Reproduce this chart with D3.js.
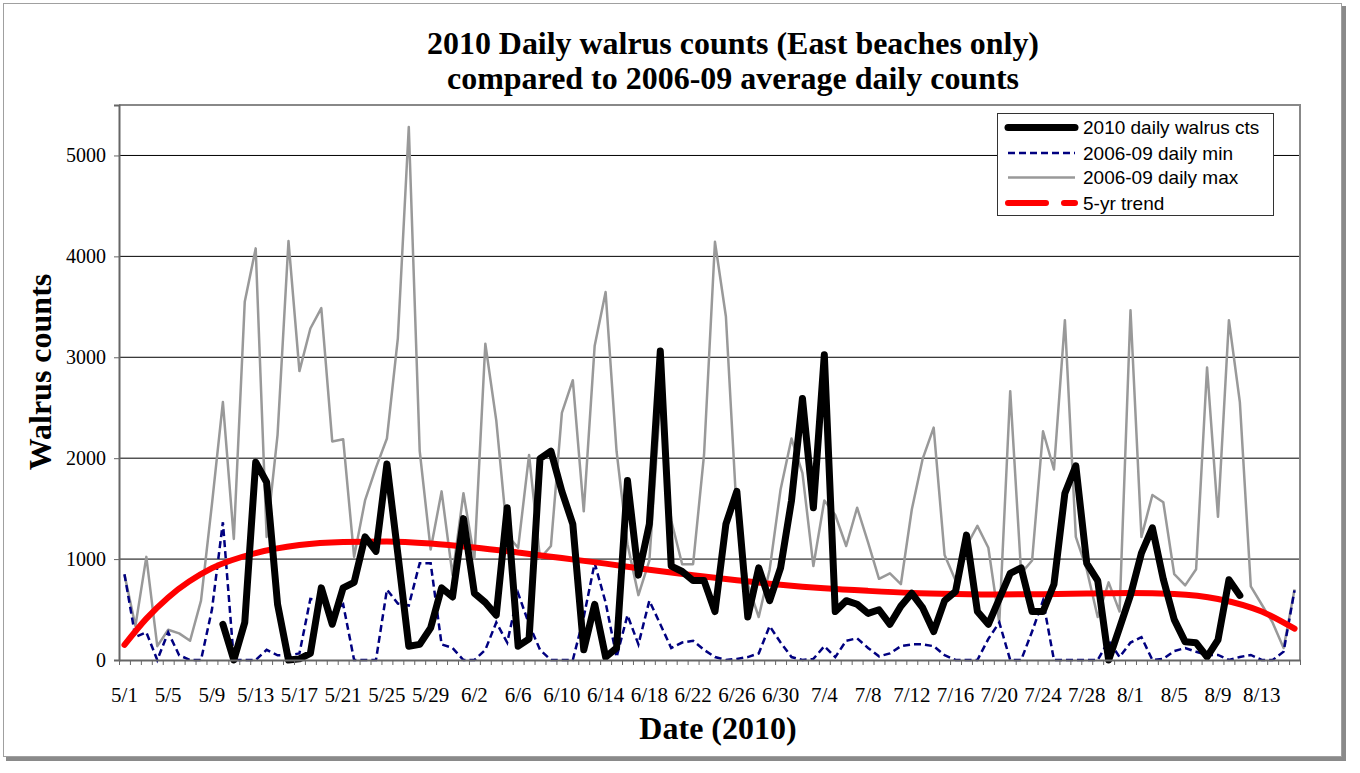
<!DOCTYPE html>
<html>
<head>
<meta charset="utf-8">
<script src="https://cdn.jsdelivr.net/npm/d3@7"></script>
<style>
  body { margin: 0; background: #fff; }
</style>
</head>
<body>
<div id="chart-area"></div>
<script>
// categories: one per day, 5/1 .. 8/16 2010
let days = d3.timeDay.range(new Date(2010, 4, 1), new Date(2010, 7, 17));
let tickLabels = ["5/1","5/5","5/9","5/13","5/17","5/21","5/25","5/29","6/2","6/6","6/10","6/14",
    "6/18","6/22","6/26","6/30","7/4","7/8","7/12","7/16","7/20","7/24","7/28","8/1","8/5","8/9","8/13"];
let yTicks = [0, 1000, 2000, 3000, 4000, 5000];

// 2010 daily walrus counts (first count on 5/10, last on 8/11)
let counts2010 = [null,null,null,null,null,null,null,null,null,
    354,0,372,1960,1762,552,0,11,65,715,354,715,769,1220,1076,1942,1050,137,155,318,715,
    625,1401,661,570,444,1509,137,209,1996,2069,1671,1347,101,552,29,119,1780,841,1347,3061,
    931,877,787,787,480,1347,1671,426,913,588,913,1581,2592,1509,3025,480,588,552,462,498,
    354,534,661,516,282,588,679,1238,480,354,606,859,913,480,480,751,1653,1924,958,787,
    0,318,643,1058,1310,800,400,180,170,30,200,795,640,
    null,null,null,null,null];

// 2006-09 daily minimum
let dailyMin = [850,227,274,0,274,47,0,0,500,1365,0,0,0,101,47,47,65,606,588,462,
    552,0,0,0,697,560,540,960,960,155,119,0,0,101,372,173,661,354,101,0,
    0,0,426,960,570,29,444,155,588,354,119,173,191,101,29,0,11,29,65,336,
    173,29,0,11,137,29,191,215,119,36,65,137,155,155,137,47,0,0,0,209,
    372,0,0,282,588,0,0,0,0,0,191,29,173,227,0,11,89,119,82,50,
    50,0,30,50,0,0,83,690];

// 2006-09 daily maximum
let dailyMax = [848,336,1022,137,300,264,191,588,1545,2556,1200,3549,4079,1220,2231,4152,2863,3285,3487,2166,
    2188,1022,1581,1906,2195,3188,5282,2069,1094,1671,841,1653,1004,3134,2375,1238,1112,2032,1004,1130,
    2448,2773,1473,3115,3646,2069,1148,643,986,2574,1383,949,949,2032,4144,3404,1437,751,426,895,
    1690,2195,1852,931,1581,1437,1130,1509,1166,805,859,751,1491,1996,2303,1040,787,1130,1329,1112,
    372,2664,859,986,2267,1888,3368,1220,895,426,769,480,3466,1220,1635,1563,850,740,900,2899,
    1419,3368,2556,730,550,370,119,700];

// 5-yr trend at a few days
let trendDays = [0, 2, 4, 8, 12, 16, 20, 24, 28, 32, 36, 40, 44, 48, 52, 56, 60, 64, 68, 72, 76, 80, 84, 88, 92, 96, 100, 104, 107];
let trendVals = [150, 410, 620, 910, 1060, 1140, 1170, 1175, 1155, 1115, 1065, 1010, 955, 895, 840, 790, 745, 710, 685, 665, 655, 650, 652, 658, 665, 655, 605, 480, 310];

let seriesNames = ["2010 daily walrus cts", "2006-09 daily min", "2006-09 daily max", "5-yr trend"];

// plot area
let margin = {top: 105, right: 60, bottom: 113, left: 119};
let W = 1360, H = 773;
let width = W - margin.left - margin.right,
    height = H - margin.top - margin.bottom;

let svg = d3.select("#chart-area")
    .append("svg")
    .attr("width", W)
    .attr("height", H)
    .style("font-family", "'Liberation Serif', 'Times New Roman', serif");

// outer chart frame with a little shadow
svg.append("rect")
    .attr("x", 6).attr("y", 6).attr("width", 1340).attr("height", 755)
    .attr("fill", "#8a8a8a");
svg.append("rect")
    .attr("x", 3.5).attr("y", 3.5).attr("width", 1338).attr("height", 753)
    .attr("fill", "#fff").attr("stroke", "#a0a0a0");

let g = svg.append("g")
    .attr("transform", "translate(" + margin.left + "," + margin.top + ")");

let x = d3.scaleBand().domain(d3.range(days.length)).range([0, width]);
let xEdge = d3.scaleLinear().domain([0, days.length]).range([0, width]);
let xc = i => x(i) + x.bandwidth() / 2;
let y = d3.scaleLinear().domain([0, 5500]).range([height, 0]);

// gridlines
g.selectAll(".grid")
    .data(yTicks.filter(d => d > 0))
    .enter().append("line")
    .attr("class", "grid")
    .attr("x1", 0).attr("x2", width)
    .attr("y1", d => y(d)).attr("y2", d => y(d))
    .attr("stroke", "#000").attr("stroke-width", 1);

// plot border (top, right)
g.append("path")
    .attr("d", "M0,0H" + width + "V" + height)
    .attr("fill", "none").attr("stroke", "#888").attr("stroke-width", 2);

// series
let line = d3.line()
    .defined(d => d.v != null)
    .x(d => xc(d.i))
    .y(d => y(d.v));

let asPts = arr => arr.map((v, i) => ({i: i, v: v}));

g.append("path")
    .datum(asPts(dailyMax))
    .attr("d", line)
    .attr("fill", "none").attr("stroke", "#999").attr("stroke-width", 2.5)
    .attr("stroke-linejoin", "round");

g.append("path")
    .datum(asPts(dailyMin))
    .attr("d", line)
    .attr("fill", "none").attr("stroke", "#000080").attr("stroke-width", 2.5)
    .attr("stroke-dasharray", "7,4");

let trendLine = d3.line()
    .x(d => xc(d.i))
    .y(d => y(d.v))
    .curve(d3.curveMonotoneX);

g.append("path")
    .datum(trendDays.map((d, k) => ({i: d, v: trendVals[k]})))
    .attr("d", trendLine)
    .attr("fill", "none").attr("stroke", "#ff0000").attr("stroke-width", 6)
    .attr("stroke-linecap", "round");

g.append("path")
    .datum(asPts(counts2010))
    .attr("d", line)
    .attr("fill", "none").attr("stroke", "#000").attr("stroke-width", 7)
    .attr("stroke-linejoin", "round").attr("stroke-linecap", "round");

// y axis
let yAxis = g.append("g")
    .call(d3.axisLeft(y).tickValues(yTicks).tickSize(5).tickPadding(8).tickFormat(d3.format("d")));
yAxis.select(".domain").attr("stroke", "#666").attr("stroke-width", 2);
yAxis.selectAll(".tick line").attr("stroke", "#666");
yAxis.selectAll("text")
    .style("font-size", "20px")
    .style("font-family", "'Liberation Serif', serif")
    .attr("fill", "#000");

// x axis: tick marks between categories
let xTickAxis = g.append("g")
    .attr("transform", "translate(0," + height + ")")
    .call(d3.axisBottom(xEdge).tickValues(d3.range(days.length + 1)).tickSize(5).tickSizeOuter(0).tickFormat(""));
xTickAxis.select(".domain").attr("stroke", "#666").attr("stroke-width", 2);
xTickAxis.selectAll(".tick line").attr("stroke", "#666");

// x labels every 4 days
let xLabelAxis = g.append("g")
    .attr("transform", "translate(0," + height + ")")
    .call(d3.axisBottom(x).tickValues(d3.range(0, days.length, 4)).tickSize(0)
        .tickFormat(i => tickLabels[i / 4]));
xLabelAxis.select(".domain").remove();
xLabelAxis.selectAll("text")
    .attr("y", 42).attr("dy", 0)
    .style("font-size", "21px")
    .style("font-family", "'Liberation Serif', serif")
    .attr("fill", "#000");

// titles
svg.append("text")
    .attr("x", 733).attr("y", 54)
    .attr("text-anchor", "middle")
    .attr("textLength", 612).attr("lengthAdjust", "spacingAndGlyphs")
    .style("font-size", "31px").style("font-weight", "bold")
    .text("2010 Daily walrus counts (East beaches only)");
svg.append("text")
    .attr("x", 733).attr("y", 89)
    .attr("text-anchor", "middle")
    .attr("textLength", 572).attr("lengthAdjust", "spacingAndGlyphs")
    .style("font-size", "31px").style("font-weight", "bold")
    .text("compared to 2006-09 average daily counts");

svg.append("text")
    .attr("x", 718).attr("y", 739)
    .attr("text-anchor", "middle")
    .style("font-size", "32px").style("font-weight", "bold")
    .text("Date (2010)");

svg.append("text")
    .attr("transform", "translate(51,372) rotate(-90)")
    .attr("text-anchor", "middle")
    .style("font-size", "32px").style("font-weight", "bold")
    .text("Walrus counts");

// legend
let legend = svg.append("g").attr("transform", "translate(997,113)");
legend.append("rect")
    .attr("x", 0.5).attr("y", 0.5).attr("width", 276).attr("height", 102)
    .attr("fill", "#fff").attr("stroke", "#333");

let legStyles = [
    {stroke: "#000", w: 7, dash: null, cap: "round"},
    {stroke: "#000080", w: 2.5, dash: "7,4", cap: "butt"},
    {stroke: "#999", w: 2.5, dash: null, cap: "butt"},
    {stroke: "#ff0000", w: 6, dash: "38,18", cap: "round"}
];
let rowY = [14.5, 40, 64.5, 90];

let item = legend.selectAll(".leg")
    .data(seriesNames)
    .enter().append("g")
    .attr("class", "leg")
    .attr("transform", (d, k) => "translate(0," + rowY[k] + ")");

item.append("line")
    .attr("x1", 11).attr("x2", 78)
    .attr("stroke", (d, k) => legStyles[k].stroke)
    .attr("stroke-width", (d, k) => legStyles[k].w)
    .attr("stroke-dasharray", (d, k) => legStyles[k].dash)
    .attr("stroke-linecap", (d, k) => legStyles[k].cap);

item.append("text")
    .attr("x", 86).attr("dy", "0.36em")
    .style("font-family", "'Liberation Sans', Arial, sans-serif")
    .style("font-size", "19px")
    .text(d => d);
</script>
</body>
</html>
